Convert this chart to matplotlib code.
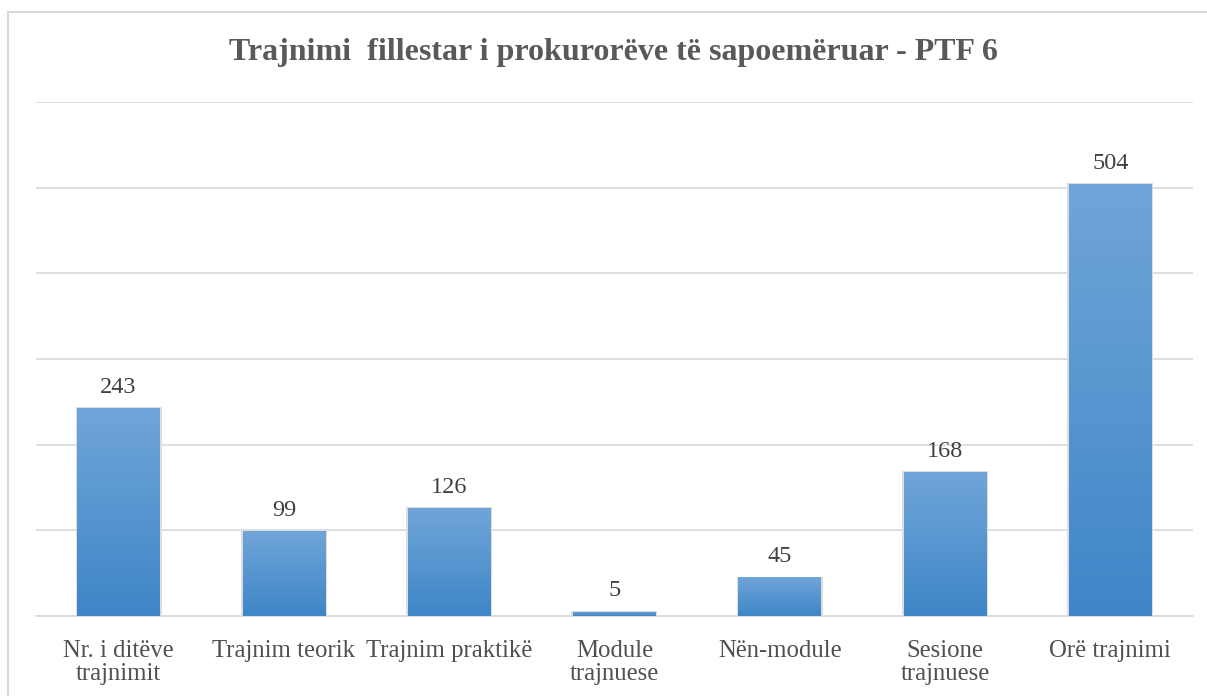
import matplotlib
matplotlib.use("Agg")
import matplotlib.pyplot as plt
import numpy as np
from matplotlib.patches import Rectangle
from matplotlib.colors import LinearSegmentedColormap

categories = ["Nr. i ditëve\ntrajnimit", "Trajnim teorik", "Trajnim praktikë",
              "Module\ntrajnuese", "Nën-module", "Sesione\ntrajnuese", "Orë trajnimi"]
values = [243, 99, 126, 5, 45, 168, 504]
title = "Trajnimi  fillestar i prokurorëve të sapoemëruar - PTF 6"

plt.rcParams['font.family'] = ['Liberation Serif', 'DejaVu Serif']

fig = plt.figure(figsize=(12.07, 6.96), dpi=100)
ax = fig.add_axes([0.0298, 0.1149, 0.9585, 0.7385])

x = np.arange(len(values))
bars = ax.bar(x, values, width=0.5, color="none", edgecolor="none", zorder=3)

cmap = LinearSegmentedColormap.from_list("g", ["#3e86c7", "#70a5d9"])
grad = np.linspace(0, 1, 256).reshape(-1, 1)
for b in bars:
    x0, y0 = b.get_x(), b.get_y()
    w, h = b.get_width(), b.get_height()
    sh = Rectangle((x0 - 0.01, y0), w + 0.02, h + 1.0, facecolor="#dcdcdc",
                   edgecolor="none", zorder=2.5)
    ax.add_patch(sh)
    im = ax.imshow(grad, extent=[x0, x0 + w, y0, y0 + h], origin="lower",
                   cmap=cmap, aspect="auto", zorder=3)
    im.set_clip_path(b)

for xi, v in zip(x, values):
    ax.text(xi, v + 12, str(v), ha="center", va="bottom", fontsize=17.5,
            color="#404040")

ax.set_xlim(-0.5, len(values) - 0.5)
ax.set_ylim(0, 600)
ax.set_yticks(np.arange(0, 601, 100))
ax.yaxis.grid(True, color="#d9d9d9", linewidth=1.2, zorder=0)
ax.set_axisbelow(True)
ax.tick_params(axis="y", left=False, labelleft=False)
ax.tick_params(axis="x", length=0, pad=17)
ax.set_xticks(x)
ax.set_xticklabels(categories, fontsize=17.8, color="#505050", linespacing=1.1)
for s in ["top", "right", "left"]:
    ax.spines[s].set_visible(False)
ax.spines["bottom"].set_color("#d9d9d9")
ax.spines["bottom"].set_linewidth(1.2)
ax.set_facecolor("none")

fig.text(0.508, 0.924, title, ha="center", va="center", fontsize=23,
         fontweight="bold", color="#595959")

fig.patches.append(Rectangle((8 / 1207, -0.01), 1.02, 1 - 12 / 696 + 0.01,
                             transform=fig.transFigure, facecolor="none",
                             edgecolor="#d9d9d9", linewidth=1.5))

fig.savefig("out.png", dpi=100)
